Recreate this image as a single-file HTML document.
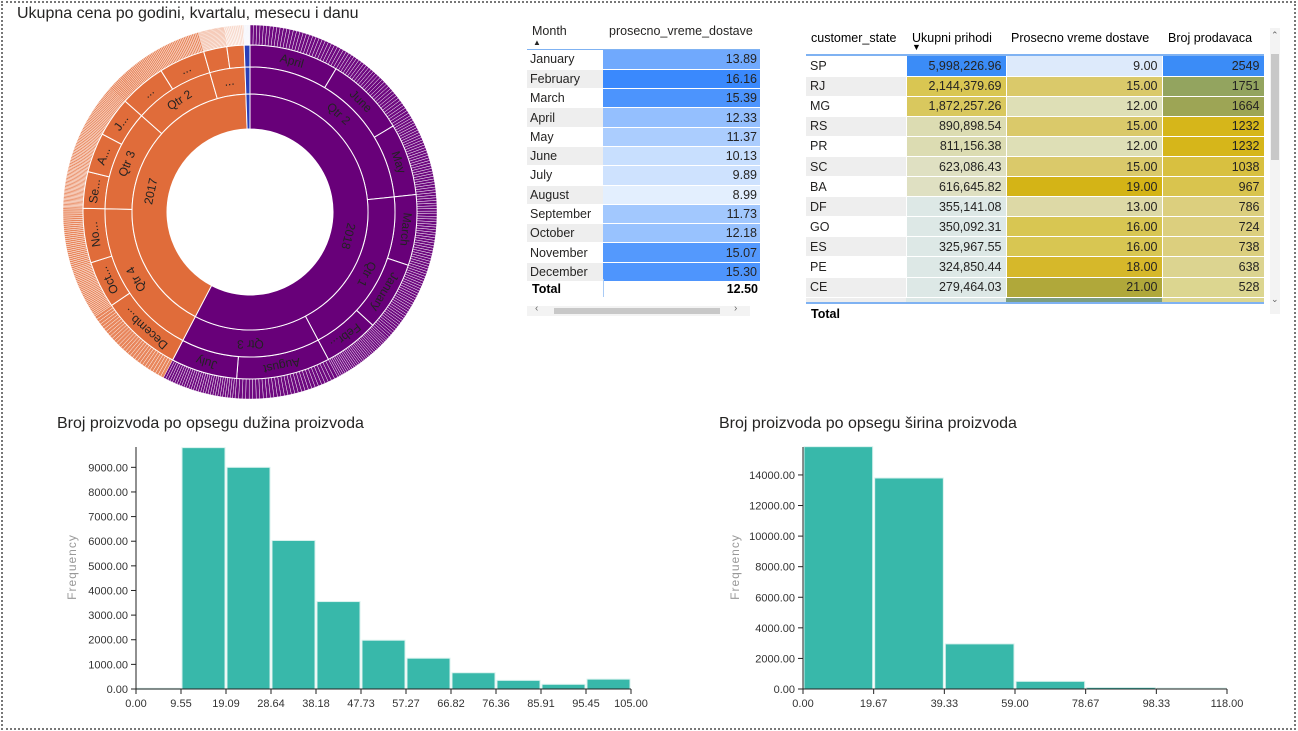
<!DOCTYPE html>
<html><head><meta charset="utf-8"><style>
*{margin:0;padding:0;box-sizing:border-box}
body{width:1298px;height:731px;background:#fff;font-family:"Liberation Sans",sans-serif;position:relative;overflow:hidden}
#frame{position:absolute;left:1px;top:1px;width:1295px;height:729px;border:2px dotted #777}
.title{position:absolute;font-size:16px;color:#252423}
table{border-collapse:collapse;font-size:12.5px;color:#252423}
.t td{height:19.3px;padding:0 3px}
.t2 td{height:20.1px;padding:0 4px}
.num{text-align:right}
</style></head><body>
<div id="frame"></div>
<div class="title" style="left:17px;top:5px">Ukupna cena po godini, kvartalu, mesecu i danu</div>
<svg id="sun" width="520" height="400" style="position:absolute;left:0;top:0"></svg>

<div style="position:absolute;left:527px;top:20px;width:235px">
<div style="height:29px;position:relative;font-size:12.5px;color:#252423">
<span style="position:absolute;left:5px;top:4px">Month</span>
<span style="position:absolute;left:6px;top:18px;font-size:8px">&#9650;</span>
<span style="position:absolute;left:82px;top:4px">prosecno_vreme_dostave</span></div>
<div style="height:1px;background:#7fb2f2;width:233px"></div>
<table class="t" id="mt" style="width:233px"></table>
<div style="position:absolute;left:0;top:261px;width:233px;height:20px;font-weight:bold;font-size:12.5px">
<span style="position:absolute;left:5px;top:1px">Total</span><span style="position:absolute;right:2px;top:1px">12.50</span>
<div style="position:absolute;left:76px;top:-2px;width:1px;height:18px;background:#a9cbf5"></div></div>
<div style="position:absolute;left:0;top:286px;width:223px;height:10px;background:#f3f3f3">
<div style="position:absolute;left:27px;top:2px;width:166px;height:6px;background:#c8c8c8"></div>
<span style="position:absolute;left:8px;top:-3px;font-size:10px;color:#666">&lsaquo;</span><span style="position:absolute;left:207px;top:-3px;font-size:10px;color:#666">&rsaquo;</span></div>
</div>

<div style="position:absolute;left:806px;top:28px;width:460px">
<div style="height:26px;position:relative;font-size:12.5px">
<span style="position:absolute;left:5px;top:3px">customer_state</span>
<span style="position:absolute;left:106px;top:3px">Ukupni prihodi</span>
<span style="position:absolute;left:106px;top:14px;font-size:9px">&#9660;</span>
<span style="position:absolute;left:205px;top:3px">Prosecno vreme dostave</span>
<span style="position:absolute;left:362px;top:3px">Broj prodavaca</span></div>
<div style="height:2px;background:#7fb2f2;width:458px"></div>
<table class="t2" id="st" style="width:458px;table-layout:fixed"></table>
<div style="height:4px;width:458px;display:flex"><div style="width:100px;background:#eee"></div><div style="width:100px;background:#dde8e6"></div><div style="width:156px;background:#7d9e7f"></div><div style="width:102px;background:#dcd690"></div></div>
<div style="height:2px;background:#7fb2f2;width:458px"></div>
<div style="font-weight:bold;font-size:12.5px;padding:3px 5px">Total</div>
<div style="position:absolute;left:464px;top:0;width:10px;height:286px;background:#f3f3f3">
<div style="position:absolute;left:1px;top:26px;width:8px;height:106px;background:#c8c8c8"></div>
<span style="position:absolute;left:1px;top:2px;font-size:9px;color:#666">&#8963;</span><span style="position:absolute;left:1px;top:266px;font-size:9px;color:#666">&#8964;</span></div>
</div>

<div class="title" style="left:57px;top:415px">Broj proizvoda po opsegu dužina proizvoda</div>
<div class="title" style="left:719px;top:415px">Broj proizvoda po opsegu širina proizvoda</div>
<svg id="h1" width="660" height="300" style="position:absolute;left:0;top:431px"></svg>
<svg id="h2" width="600" height="300" style="position:absolute;left:660px;top:431px"></svg>

<script>
// ---- month table data
const months=["January","February","March","April","May","June","July","August","September","October","November","December"];
const monthDelivery=[13.89,16.16,15.39,12.33,11.37,10.13,9.89,8.99,11.73,12.18,15.07,15.30];
// ---- state table data
const states=["SP","RJ","MG","RS","PR","SC","BA","DF","GO","ES","PE","CE"];
const revenue=["5,998,226.96","2,144,379.69","1,872,257.26","890,898.54","811,156.38","623,086.43","616,645.82","355,141.08","350,092.31","325,967.55","324,850.44","279,464.03"];
const deliveryTime=["9.00","15.00","12.00","15.00","12.00","15.00","19.00","13.00","16.00","16.00","18.00","21.00"];
const sellers=[2549,1751,1664,1232,1232,1038,967,786,724,738,638,528];
const revColors=["#3b8cf7","#d9c652","#d9c85e","#dcdcb2","#dcdcb2","#dfe0c2","#dfe0c2","#dde8e6","#dde8e6","#dde8e6","#dde8e6","#dde8e6"];
const delColors=["#ddeafb","#dac96a","#dedfb6","#dac96a","#dedfb6","#dac96a","#d4b416","#ddd9a6","#d8c652","#d8c652","#d6b82a","#b0a83a"];
const selColors=["#3b8cf7","#93a45f","#9da555","#d6b61a","#d6b61a","#d8c040","#d9c44e","#dccf7e","#dccf7e","#dccf7e","#dcd490","#dcd690"];

function mix(a,b,t){const p=s=>[1,3,5].map(i=>parseInt(s.substr(i,2),16));const A=p(a),B=p(b);return "rgb("+A.map((v,i)=>Math.round(v+(B[i]-v)*t)).join(",")+")";}
const mt=document.getElementById('mt');
const mn=Math.min(...monthDelivery),mx=Math.max(...monthDelivery);
months.forEach((m,i)=>{
 const tr=document.createElement('tr');
 
 
 const bg=i%2?'#eeeeee':'#fff';
 tr.innerHTML='<td style="width:76px;background:'+bg+';border-bottom:1px solid #fff">'+m+'</td><td class="num" style="background:'+mix('#e3effe','#3a89fd',(monthDelivery[i]-mn)/(mx-mn))+';border-bottom:1px solid #fff">'+monthDelivery[i].toFixed(2)+'</td>';
 mt.appendChild(tr);
});
const st=document.getElementById('st');
states.forEach((s,i)=>{
 const tr=document.createElement('tr');
 
 
 const bg=i%2?'#eeeeee':'#fff';
 const b='border-bottom:1px solid #fff;border-right:1px solid #fff;';
 tr.innerHTML='<td style="width:100px;background:'+bg+';'+b+'">'+s+'</td><td class="num" style="width:100px;background:'+revColors[i]+';'+b+'">'+revenue[i]+'</td><td class="num" style="width:156px;background:'+delColors[i]+';'+b+'">'+deliveryTime[i]+'</td><td class="num" style="width:102px;background:'+selColors[i]+';'+b+'">'+sellers[i]+'</td>';
 st.appendChild(tr);
});

// ---- sunburst data (angular shares, degrees of total)
const years=["2018","2017","2016"];
const quarterLabels=[["Qtr 2","Qtr 1","Qtr 3"],["Qtr 4","Qtr 3","Qtr 2","..."],["..."]];
const monthLabels=[[["April","June","May"],["March","January","Febr..."],["August","July"]],
 [["Decemb...","Oct...","No..."],["Se...","A...","J..."],["...","..."],["...","..."]],[["."]]];
const monthValues=[[[31,28,25],[24.6,24.1,19.3],[32.6,23]],
 [[28.4,16.3,19],[12.7,13.8,13.8],[16.2,16.1],[8.1,6]],[[2]]];
const yearColors=["#680079","#e06c3a","#2a3fb8"];
const dayColors=["#6e0a80","#e8865c","#2a3fb8"];
const ns="http://www.w3.org/2000/svg";
const sun=document.getElementById('sun');
const cx=250,cy=212,R=[83,118,145,167,187];
function pt(r,a){a=a*Math.PI/180;return [cx+r*Math.sin(a),cy-r*Math.cos(a)];}
function arc(r0,r1,a0,a1){const L=(a1-a0)>180?1:0;const p0=pt(r1,a0),p1=pt(r1,a1),p2=pt(r0,a1),p3=pt(r0,a0);
 return `M${p0}A${r1},${r1} 0 ${L} 1 ${p1}L${p2}A${r0},${r0} 0 ${L} 0 ${p3}Z`;}
function seg(r0,r1,a0,a1,fill,sw,name){const p=document.createElementNS(ns,'path');p.setAttribute('d',arc(r0,r1,a0,a1));p.setAttribute('fill',fill);p.setAttribute('stroke','#fff');p.setAttribute('stroke-width',sw);
 
 
 sun.appendChild(p);}
function label(txt,r,a){const t=document.createElementNS(ns,'text');const p=pt(r,a);t.setAttribute('x',p[0]);t.setAttribute('y',p[1]);t.setAttribute('transform',`rotate(${a} ${p[0]} ${p[1]})`);t.setAttribute('text-anchor','middle');t.setAttribute('dominant-baseline','middle');t.setAttribute('font-size','12');t.setAttribute('fill','#222');t.textContent=txt;
 
 
 sun.appendChild(t);}
let a=0;
years.forEach((y,yi)=>{
 const ya=a;
 monthValues[yi].forEach((q,qi)=>{
  const qa=a;
  q.forEach((v,mi)=>{
   const ma=a;
   const n=30,step=v/n;
   for(let d=0;d<n;d++)seg(R[3],R[4],ma+d*step,ma+(d+1)*step,dayColors[yi],0.45,'day-segment');
   seg(R[2],R[3],ma,ma+v,yearColors[yi],1,'month-segment');
   if(v>10)label(monthLabels[yi][qi][mi],(R[2]+R[3])/2,ma+v/2);
   a+=v;
  });
  seg(R[1],R[2],qa,a,yearColors[yi],1,'quarter-segment');
  if(a-qa>10)label(quarterLabels[yi][qi],(R[1]+R[2])/2,(qa+a)/2);
 });
 seg(R[0],R[1],ya,a,yearColors[yi],1,'year-segment');
 if(a-ya>10)label(y,(R[0]+R[1])/2,(ya+a)/2+(yi==0?0:-1));
});

// ---- histogram 1
const h1Ticks=["0.00","9.55","19.09","28.64","38.18","47.73","57.27","66.82","76.36","85.91","95.45","105.00"];
const h1Counts=[30,9800,9000,6030,3550,1980,1250,660,350,190,400];
const h1YTicks=[0,1000,2000,3000,4000,5000,6000,7000,8000,9000];
// ---- histogram 2
const h2Ticks=["0.00","19.67","39.33","59.00","78.67","98.33","118.00"];
const h2Counts=[15850,13800,2950,500,100,60];
const h2YTicks=[0,2000,4000,6000,8000,10000,12000,14000];

function hist(svg,ticks,counts,yt,x0,x1,pxPer,top,titleOff){
 const s=document.getElementById(svg);const base=258;
 const X=i=>x0+(x1-x0)*i/(ticks.length-1);const Y=v=>base-v*pxPer;
 function el(tag,at,nm,inter){const e=document.createElementNS(ns,tag);for(const k in at)e.setAttribute(k,at[k]);
  
  
  s.appendChild(e);return e;}
 counts.forEach((c,i)=>el('rect',{x:X(i)+1,y:Y(c),width:X(i+1)-X(i)-2,height:Math.max(c*pxPer,1),fill:'#38b8aa',stroke:'#d8f2ee','stroke-width':1},'histogram-bar','true'));
 el('line',{x1:x0,y1:top,x2:x0,y2:base,stroke:'#222'},'y-axis','false');
 el('line',{x1:x0,y1:base,x2:x1,y2:base,stroke:'#222'},'x-axis','false');
 yt.forEach(v=>{el('line',{x1:x0-5,y1:Y(v),x2:x0,y2:Y(v),stroke:'#222'},'y-tick','false');
  const t=el('text',{x:x0-8,y:Y(v)+4,'text-anchor':'end','font-size':11,fill:'#333'},'y-tick-label','false');t.textContent=v.toFixed(2);});
 ticks.forEach((tk,i)=>{el('line',{x1:X(i),y1:base,x2:X(i),y2:base+5,stroke:'#222'},'x-tick','false');
  const t=el('text',{x:X(i),y:base+18,'text-anchor':'middle','font-size':11,fill:'#333'},'x-tick-label','false');t.textContent=tk;});
 const f=el('text',{x:0,y:0,transform:`translate(${x0-titleOff},${base-122}) rotate(-90)`,'text-anchor':'middle','font-size':12,fill:'#999','letter-spacing':'1'},'y-axis-title','false');f.textContent='Frequency';
}
hist('h1',h1Ticks,h1Counts,h1YTicks,136,631,0.02463,16,60);
hist('h2',h2Ticks,h2Counts,h2YTicks,143,567,0.01529,16,64);
</script>
</body></html>
